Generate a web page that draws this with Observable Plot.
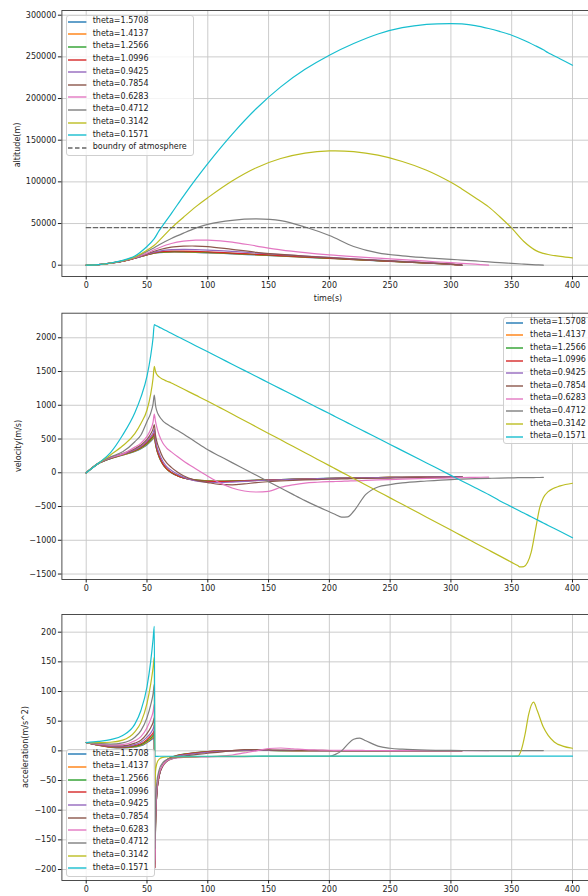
<!DOCTYPE html>
<html>
<head>
<meta charset="utf-8">
<script src="https://cdn.jsdelivr.net/npm/d3@7"></script>
<script src="https://cdn.jsdelivr.net/npm/@observablehq/plot@0.6"></script>
<style>
  body { margin: 0; background: #fff; }
  #root { position: relative; width: 588px; height: 896px; overflow: hidden; font-family: "DejaVu Sans", sans-serif; }
  .legend { position: absolute; background: rgba(255,255,255,0.8); border: 1px solid #cfcfcf; border-radius: 3px; box-sizing: border-box; }
  .lt { position: absolute; font-size: 8px; line-height: 10px; color: #222; white-space: nowrap; }
  .ylab { position: absolute; font-size: 8px; color: #222; white-space: nowrap; transform: translate(-50%, -50%) rotate(-90deg); }
  .xlab { position: absolute; font-size: 8px; color: #222; white-space: nowrap; transform: translate(-50%, -50%); }
</style>
</head>
<body>
<div id="root"></div>
<script>
// ---------- series meta ----------
const seriesNames = ["theta=1.5708","theta=1.4137","theta=1.2566","theta=1.0996","theta=0.9425",
                     "theta=0.7854","theta=0.6283","theta=0.4712","theta=0.3142","theta=0.1571"];
const colors = ["#1f77b4","#ff7f0e","#2ca02c","#d62728","#9467bd","#8c564b","#e377c2","#7f7f7f","#bcbd22","#17becf"];
const seriesEnds = [309,309,309,309,309,309,331,376,400,400];
const xTicks = [0,50,100,150,200,250,300,350,400];
const altTicks = [0,50000,100000,150000,200000,250000,300000];
const velTicks = [-1500,-1000,-500,0,500,1000,1500,2000];
const accTicks = [-200,-150,-100,-50,0,50,100,150,200];
const atmLabel = "boundry of atmosphere";
const atmT = [0, 400];
const atmAlt = 45000;

// ---------- altitude (m) ----------
const tAlt = [0,10,20,30,40,50,56,60,70,80,90,100,120,140,160,180,200,220,240,260,280,300,309,320,331,340,350,360,370,376,380,390,400];
const alt15708 = [0,600,2400,4760,8400,12400,14400,15200,15700,15600,15300,14800,13600,12300,10900,9500,8100,6700,5300,3900,2500,1000,0];
const alt14137 = [0,600,2400,4770,8420,12450,14500,15400,16000,15900,15600,15100,13900,12500,11100,9700,8300,6800,5400,4000,2600,1100,0];
const alt12566 = [0,600,2400,4780,8450,12550,14700,15700,16400,16300,16000,15500,14200,12800,11400,9900,8400,6900,5500,4100,2700,1200,0];
const alt10996 = [0,600,2400,4800,8500,12700,15000,16100,17000,16900,16600,16000,14600,13100,11600,10100,8600,7100,5600,4200,2700,1200,0];
const alt09425 = [0,600,2400,4850,8600,13100,15700,16900,18600,19000,18800,18200,16500,14600,12800,11000,9300,7600,6000,4500,3000,1400,0];
const alt07854 = [0,600,2400,4900,8800,13600,16800,18500,21600,22800,23000,22400,19000,15500,13000,11000,9000,7400,5900,4400,2900,1300,0];
const alt06283 = [0,600,2400,5000,9000,14500,18500,21000,26000,28800,30000,30000,27800,23000,18400,15000,12300,10200,8400,6600,4800,3000,2300,1200,0];
const alt04712 = [0,600,2500,5200,9600,16500,21000,24500,32000,38500,44500,49000,53800,55500,53500,45800,35600,22500,14800,11200,8900,7000,6200,5100,4000,3100,2200,1300,500,0];
const alt03142 = [0,600,2500,5300,10000,18000,24000,29500,44500,57500,70000,81000,101000,117000,128000,134500,137200,136300,132000,124500,114000,99500,91500,81000,70000,58500,44500,28500,17500,14200,12800,10500,8800];
const alt01571 = [0,600,2600,5800,11000,22500,32000,41500,62000,83000,103000,122000,157000,188000,214000,235000,252000,266000,277500,285000,289000,290000,289500,287500,284000,280500,276000,270000,263000,258500,255000,247500,240000];

// ---------- velocity (m/s) ----------
const tVel = [0,10,20,30,40,45,50,53,55,56,57,58,60,63,66,70,75,80,90,100,110,120,130,140,150,160,170,180,190,200,205,210,215,220,230,240,250,260,280,300,309,320,331,340,350,355,357,360,363,366,370,373,376,380,390,400];
const vel15708 = [0,135,210,260,315,355,415,465,505,535, 420,340,230,125,58,2,-45,-75,-105,-118, -122,-120,-115,-110,-105,-100,-95,-90,-86,-82, -80,-78,-77,-75,-72,-70,-68,-66,-62,-58, -56];
const vel14137 = [0,136,212,263,320,362,425,478,518,550, 430,345,235,128,60,4,-44,-75,-106,-120, -124,-121,-116,-111,-106,-101,-96,-91,-87,-83, -81,-79,-77,-76,-73,-70,-68,-66,-62,-58, -56];
const vel12566 = [0,137,214,267,326,370,437,493,535,567, 440,352,240,130,62,5,-43,-76,-108,-123, -127,-124,-118,-112,-107,-102,-97,-92,-88,-84, -82,-80,-78,-76,-73,-71,-69,-67,-63,-59, -57];
const vel10996 = [0,138,216,271,334,382,453,512,557,592, 455,362,248,135,65,6,-43,-78,-112,-128, -132,-128,-121,-114,-108,-103,-98,-93,-89,-85, -83,-81,-79,-77,-74,-71,-69,-67,-63,-59, -57];
const vel09425 = [0,140,218,276,342,392,470,535,590,642, 490,400,290,170,95,35,-20,-65,-120,-140, -145,-138,-128,-118,-110,-103,-97,-92,-88,-84, -82,-80,-79,-77,-74,-72,-70,-68,-64,-60, -58];
const vel07854 = [0,141,221,285,357,412,495,575,650,715, 560,470,360,230,150,80,10,-45,-110,-145, -172,-178,-165,-145,-132,-122,-113,-106,-100,-95, -93,-91,-89,-87,-84,-81,-78,-76,-71,-66, -64];
const vel06283 = [0,142,225,280,380,440,540,640,750,868, 760,680,560,440,370,310,240,175,60,-50, -150,-225,-270,-285,-275,-215,-178,-152,-140,-132, -129,-126,-123,-120,-113,-106,-100,-94,-84,-76, -72,-68,-65];
const vel04712 = [0,143,235,310,460,560,760,880,1020,1150, 1000,920,840,770,725,680,630,575,455,340, 245,150,56,-38,-132,-226,-320,-412,-498,-578, -618,-656,-652,-570,-320,-210,-175,-150,-122,-100, -94,-87,-82,-78,-75,-73,-73,-72,-71,-71, -70,-70,-69];
const vel03142 = [0,140,265,400,580,730,930,1160,1400,1575, 1500,1460,1420,1385,1360,1330,1285,1240,1150,1060, 965,870,774,679,583,488,392,297,201,106, 58,10,-38,-85,-181,-276,-372,-467,-658,-849, -935,-1040,-1145,-1231,-1327,-1375,-1395,-1390,-1330,-1180, -800,-520,-370,-280,-195,-155];
const vel01571 = [0,140,300,560,890,1120,1430,1730,2000,2195, 2185,2176,2158,2130,2103,2066,2020,1975,1883,1792, 1700,1609,1517,1426,1334,1243,1151,1060,968,877, 831,785,739,694,602,511,419,328,145,-38, -121,-221,-322,-413,-505,-551,-569,-597,-624,-652, -688,-716,-743,-780,-871,-963];

// ---------- acceleration (m/s^2) ----------
const tAcc = [0,10,20,30,40,45,50,53,55,56,56.5,57,58,60,63,66,70,75,80,90,100,110,120,130,140,150,160,170,180,190,200,205,210,215,220,225,230,240,250,260,280,300,309,331,350,355,358,361,364,368,371,376,380,385,392,400];
const acc15708 = [14,9.5,6,5,6.5,8.5,14,18,21,23, -198,-130,-75,-42,-24,-16,-11,-7.5,-5.5,-3, -1.2,-0.2,0.3,0.5,0.6,0.6,0.5,0.5,0.4,0.4, 0.3,0.3,0.3,0.3,0.3,0.3,0.3,0.3,0.3,0.2, 0.2,0.2,0.2];
const acc14137 = [14,9.6,6.2,5.3,7,9.5,15,19.5,23,25.5, -198,-128,-74,-42,-24,-16,-11,-7.7,-5.7,-3.1, -1.3,-0.2,0.3,0.5,0.6,0.6,0.5,0.5,0.4,0.4, 0.3,0.3,0.3,0.3,0.3,0.3,0.3,0.3,0.3,0.2, 0.2,0.2,0.2];
const acc12566 = [14,9.8,6.5,5.7,7.8,10.5,16.5,21.5,26,29, -197,-127,-74,-42,-24,-16.2,-11.2,-7.9,-5.9,-3.3, -1.4,-0.3,0.3,0.6,0.7,0.6,0.5,0.5,0.4,0.4, 0.3,0.3,0.3,0.3,0.3,0.3,0.3,0.3,0.3,0.2, 0.2,0.2,0.2];
const acc10996 = [14,10,7,6.3,9,12,19,25,30,34, -197,-126,-74,-42,-24.5,-16.5,-11.5,-8.2,-6.2,-3.6, -1.7,-0.4,0.4,0.7,0.8,0.7,0.6,0.5,0.5,0.4, 0.4,0.4,0.3,0.3,0.3,0.3,0.3,0.3,0.3,0.2, 0.2,0.2,0.2];
const acc09425 = [14,10.3,7.6,7.2,10.5,14.5,23,30,37,43, -185,-122,-73,-42,-25,-17.5,-12.5,-9,-7,-4.5, -2.5,-1,0,0.8,1,0.9,0.8,0.7,0.6,0.5, 0.5,0.5,0.4,0.4,0.4,0.4,0.4,0.3,0.3,0.3, 0.2,0.2,0.2];
const acc07854 = [14,10.8,8.5,8.5,13,18,29,39,48,56, -192,-118,-71,-42,-26,-18.5,-14,-11,-9,-6.5, -4,-2,0.5,2,2,1.5,1.2,1,0.8,0.7, 0.6,0.6,0.5,0.5,0.5,0.5,0.4,0.4,0.4,0.3, 0.3,0.2,0.2];
const acc06283 = [14,11.5,9.8,10.5,17,24,39,53,66,79, -198,-110,-65,-38,-24,-17,-13.5,-12,-11,-10.5, -10,-9,-7,-3.5,0,4,4.8,3.5,2,1.4, 1,0.9,0.8,0.8,0.7,0.7,0.6,0.6,0.5,0.5, 0.4,0.3,0.3,0.2];
const acc04712 = [14,12.5,11.5,13.5,23,34,56,77,96,112, -165,-90,-55,-32,-20,-15,-12.5,-11,-10.5,-10, -9.9,-9.8,-9.7,-9.6,-9.5,-9.4,-9.4,-9.3,-9.3,-9.2, -9.2,-6,0,11,19.5,21.5,17,8,4.4,2.8, 1.2,0.7,0.6,0.5,0.5,0.5,0.5,0.5,0.5,0.5, 0.5,0.5];
const acc03142 = [14,14,14.5,18,32,48,80,112,140,158, -60,-35,-22,-14,-11,-10.2,-9.9,-9.8,-9.7,-9.6, -9.5,-9.4,-9.4,-9.3,-9.3,-9.3,-9.2,-9.2,-9.2,-9.2, -9.2,-9.2,-9.1,-9.1,-9.1,-9.1,-9.1,-9.1,-9.1,-9.1, -9.1,-9.1,-9.1,-9.1,-9.1,-9,2,28,62,82, 68,40,26,15,8,4.4];
const acc01571 = [14,16,19,26,45,68,108,150,188,210, -9.3,-9.2,-9.2,-9.1,-9.1,-9.1,-9.1,-9.1,-9.1,-9.1, -9.1,-9.1,-9.1,-9.1,-9.0,-9.0,-9.0,-9.0,-9.0,-9.0, -9.0,-9.0,-9.0,-9.0,-9.0,-9.0,-9.0,-9.0,-9.0,-9.0, -9.0,-9.0,-9.0,-9.0,-9.0,-9.0,-9.0,-9.0,-9.0,-9.0, -9.0,-9.0,-9.0,-9.0,-9.0,-9.0];

// ---------- helpers ----------
const root = document.getElementById("root");
const svgNS = "http://www.w3.org/2000/svg";
const fmt = d => d < 0 ? "\u2212" + Math.abs(d) : String(d);

function toRows(T, arrays, label) {
  const rows = [];
  arrays.forEach((arr, i) => {
    if (T[arr.length - 1] !== seriesEnds[i]) throw new Error(label + " series " + i + " ends at " + T[arr.length - 1] + " (len " + arr.length + ")");
    arr.forEach((v, j) => rows.push({t: T[j], v, s: seriesNames[i]}));
  });
  return rows;
}

function makePanel({top, height, mt, mb, ydom, yticks, rows, curve, extra = []}) {
  const svg = Plot.plot({
    width: 600, height,
    marginLeft: 61.4, marginRight: 3.7, marginTop: mt, marginBottom: mb,
    style: {fontFamily: '"DejaVu Sans", sans-serif', fontSize: "8px", color: "#222", background: "transparent", overflow: "visible", maxWidth: "none"},
    x: {domain: [-20, 420]},
    y: {domain: ydom},
    color: {domain: seriesNames, range: colors},
    marks: [
      Plot.gridX({ticks: xTicks, stroke: "#c6c6c6", strokeOpacity: 1, strokeWidth: 0.9}),
      Plot.gridY({ticks: yticks, stroke: "#c6c6c6", strokeOpacity: 1, strokeWidth: 0.9}),
      Plot.line(rows, {x: "t", y: "v", z: "s", stroke: "s", curve, strokeWidth: 1.2}),
      ...extra,
      Plot.frame({stroke: "#3a3a3a", strokeWidth: 0.9}),
      Plot.axisX({ticks: xTicks, tickSize: 3.5, tickPadding: 2, tickFormat: fmt, label: null}),
      Plot.axisY({ticks: yticks, tickSize: 3.5, tickPadding: 2, tickFormat: fmt, label: null})
    ]
  });
  svg.style.position = "absolute";
  svg.style.left = "0px";
  svg.style.top = top + "px";
  svg.style.maxWidth = "none";
  svg.style.width = "600px";
  svg.style.height = height + "px";
  root.appendChild(svg);
}

function legend({left, top, width, height, rowY0, dy, lx0, lx1, tx, items}) {
  const box = document.createElement("div");
  box.className = "legend";
  Object.assign(box.style, {left: left + "px", top: top + "px", width: width + "px", height: height + "px"});
  root.appendChild(box);
  items.forEach((it, i) => {
    const y = rowY0 + dy * i;
    const sw = document.createElementNS(svgNS, "svg");
    const w = lx1 - lx0;
    sw.setAttribute("width", w); sw.setAttribute("height", 6);
    Object.assign(sw.style, {position: "absolute", left: lx0 + "px", top: (y - 3) + "px"});
    const ln = document.createElementNS(svgNS, "line");
    ln.setAttribute("x1", 0); ln.setAttribute("x2", w); ln.setAttribute("y1", 3); ln.setAttribute("y2", 3);
    ln.setAttribute("stroke", it.color); ln.setAttribute("stroke-width", 1.4);
    if (it.dash) ln.setAttribute("stroke-dasharray", it.dash);
    sw.appendChild(ln);
    root.appendChild(sw);
    const t = document.createElement("div");
    t.className = "lt";
    t.textContent = it.label;
    Object.assign(t.style, {left: tx + "px", top: (y - 5.5) + "px"});
    root.appendChild(t);
  });
}

function label(cls, text, x, y) {
  const d = document.createElement("div");
  d.className = cls;
  d.textContent = text;
  Object.assign(d.style, {left: x + "px", top: y + "px"});
  root.appendChild(d);
}

// ---------- panels ----------
const altRows = toRows(tAlt, [alt15708,alt14137,alt12566,alt10996,alt09425,alt07854,alt06283,alt04712,alt03142,alt01571], "alt");
const velRows = toRows(tVel, [vel15708,vel14137,vel12566,vel10996,vel09425,vel07854,vel06283,vel04712,vel03142,vel01571], "vel");
const accRows = toRows(tAcc, [acc15708,acc14137,acc12566,acc10996,acc09425,acc07854,acc06283,acc04712,acc03142,acc01571], "acc");

makePanel({
  top: 0, height: 300, mt: 10, mb: 24,
  ydom: [-13560, 305640], yticks: altTicks, rows: altRows, curve: "catmull-rom",
  extra: [Plot.line(atmT.map(t => ({t, v: atmAlt})), {x: "t", y: "v", stroke: "#666", strokeWidth: 1.2, strokeDasharray: "4.5,2.5"})]
});
makePanel({top: 300, height: 296, mt: 12.7, mb: 17, ydom: [-1581, 2364], yticks: velTicks, rows: velRows, curve: "monotone-x"});
makePanel({top: 600, height: 296, mt: 14, mb: 16, ydom: [-218.5, 229.8], yticks: accTicks, rows: accRows, curve: "monotone-x"});

// ---------- labels ----------
label("ylab", "altitude(m)", 16.7, 145);
label("xlab", "time(s)", 328, 298);
label("ylab", "velocity(m/s)", 18.3, 446);
label("ylab", "acceleration(m/s^2)", 25, 747);

// ---------- legends ----------
const items = seriesNames.map((n, i) => ({label: n, color: colors[i]}));
legend({left: 65.7, top: 15, width: 128.5, height: 141, rowY0: 21.7, dy: 12.6, lx0: 68.3, lx1: 86.7, tx: 92.7,
        items: [...items, {label: atmLabel, color: "#666", dash: "4.5,2.5"}]});
legend({left: 503.3, top: 316.7, width: 100, height: 127.3, rowY0: 322.7, dy: 12.67, lx0: 506, lx1: 523.3, tx: 530, items});
legend({left: 65.7, top: 749, width: 89.3, height: 128, rowY0: 754.3, dy: 12.67, lx0: 68.3, lx1: 86.7, tx: 92.7, items});
</script>
</body>
</html>
